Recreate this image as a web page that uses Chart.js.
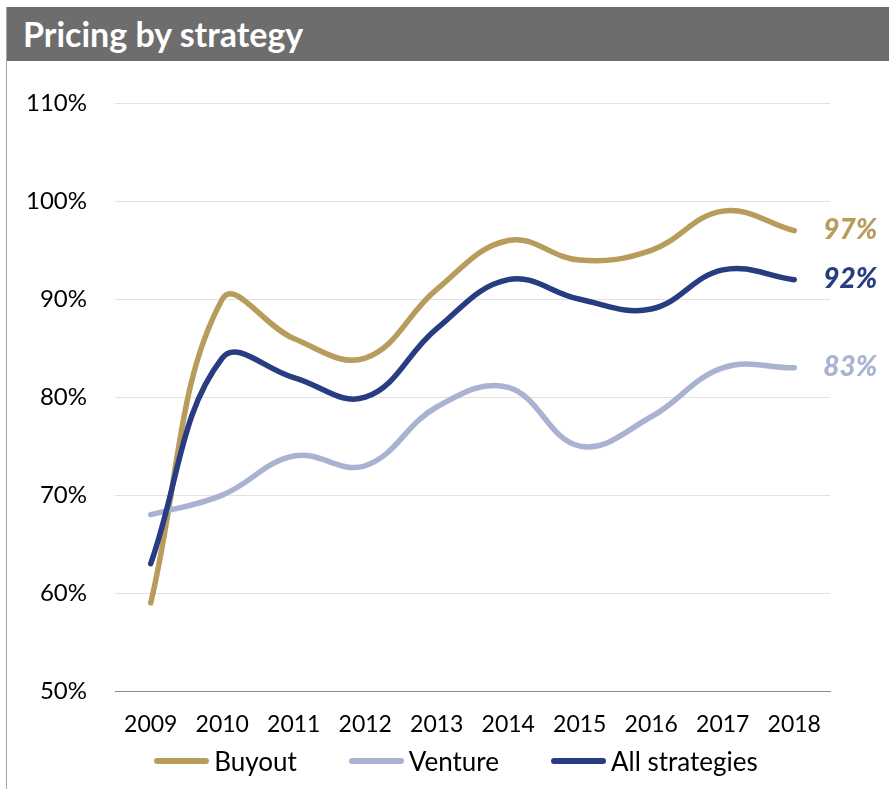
<!DOCTYPE html>
<html>
<head>
<meta charset="utf-8">
<script src="https://cdn.jsdelivr.net/npm/chart.js@4"></script>
<style>
  html, body { margin: 0; padding: 0; background: #fff; }
  body { width: 889px; height: 789px; position: relative; overflow: hidden; font-family: Lato, "Noto Sans", sans-serif; }
  #frame { position: absolute; left: 6px; top: 7px; width: 883px; height: 782px; border-left: 1px solid #a6a6a6; }
  #title { height: 54px; line-height: 54px; background: #6d6d6d; color: #fff; font-weight: bold; font-size: 34px; padding-left: 16px; }
  #wrap { position: absolute; left: 0; top: 54px; width: 882px; height: 728px; }
  #legend { position: absolute; left: 8px; top: 739px; width: 882px; height: 30px; display: flex; justify-content: center; align-items: center; font-size: 26px; color: #000; }
  .item { display: flex; align-items: center; margin: 0 26px; }
  .swatch { width: 55px; height: 6px; border-radius: 3px; margin-right: 5px; }
</style>
</head>
<body>
<div id="frame">
  <div id="title">Pricing by strategy</div>
  <div id="wrap"><canvas id="pricing"></canvas></div>
  <div id="legend"></div>
</div>
<script>
var years = ['2009', '2010', '2011', '2012', '2013', '2014', '2015', '2016', '2017', '2018'];
var buyout = [59, 90, 86, 84, 91, 96, 94, 95, 99, 97];
var venture = [68, 70, 74, 73, 79, 81, 75, 78, 83, 83];
var allStrategies = [63, 84, 82, 80, 87, 92, 90, 89, 93, 92];
var seriesNames = ['Buyout', 'Venture', 'All strategies'];
var seriesColors = ['#b89c5c', '#a9b2d0', '#283c82'];

var FONT = 'Lato, "Noto Sans", sans-serif';

// value tag next to the last point of every line
var endLabels = {
    id: 'endLabels',
    afterDatasetsDraw: function (chart) {
        var ctx = chart.ctx;
        ctx.save();
        ctx.font = 'italic 900 28px ' + FONT;
        ctx.textAlign = 'left';
        ctx.textBaseline = 'middle';
        chart.data.datasets.forEach(function (ds, i) {
            var meta = chart.getDatasetMeta(i);
            var last = meta.data[meta.data.length - 1];
            ctx.fillStyle = ds.borderColor;
            ctx.fillText(ds.data[ds.data.length - 1] + '%', last.x + 29, last.y - 1);
        });
        ctx.restore();
    }
};

function line(label, data, color, order) {
    return {
        label: label,
        data: data,
        fill: false,
        borderColor: color,
        backgroundColor: color,
        borderWidth: 5.5,
        borderCapStyle: 'round',
        borderJoinStyle: 'round',
        pointRadius: 0,
        tension: 0.4,
        order: order
    };
}

var ctx = document.getElementById('pricing').getContext('2d');
var myChart = new Chart(ctx, {
    type: 'line',
    plugins: [endLabels],
    options: {
        responsive: true,
        maintainAspectRatio: false,
        animation: false,
        layout: { padding: { left: 0, right: 59, top: 39, bottom: 57 } },
        plugins: {
            legend: { display: false },
            tooltip: { enabled: false }
        },
        scales: {
            x: {
                offset: true,
                grid: { display: false },
                border: { display: true, color: '#8c8c8c', width: 1 },
                ticks: { color: '#000', font: { family: FONT, size: 23 }, padding: 12, maxRotation: 0, autoSkip: false },
                afterFit: function (s) { s.height = 41; }
            },
            y: {
                min: 50,
                max: 110,
                grid: { color: '#e2e2e2', lineWidth: 1, drawTicks: false },
                border: { display: false },
                ticks: {
                    stepSize: 10,
                    color: '#000',
                    font: { family: FONT, size: 24 },
                    padding: 28,
                    callback: function (v) { return v + '%'; }
                },
                afterFit: function (s) { s.width = 108; }
            }
        }
    },
    data: {
        labels: years,
        datasets: [
            line(seriesNames[0], buyout, seriesColors[0], 2),
            line(seriesNames[1], venture, seriesColors[1], 1),
            line(seriesNames[2], allStrategies, seriesColors[2], 0)
        ]
    }
});

// html legend built from the datasets
var legendBox = document.getElementById('legend');
myChart.data.datasets.forEach(function (ds) {
    var item = document.createElement('div');
    item.className = 'item';
    var sw = document.createElement('span');
    sw.className = 'swatch';
    sw.style.background = ds.borderColor;
    var txt = document.createElement('span');
    txt.textContent = ds.label;
    item.appendChild(sw);
    item.appendChild(txt);
    legendBox.appendChild(item);
});
</script>
</body>
</html>
